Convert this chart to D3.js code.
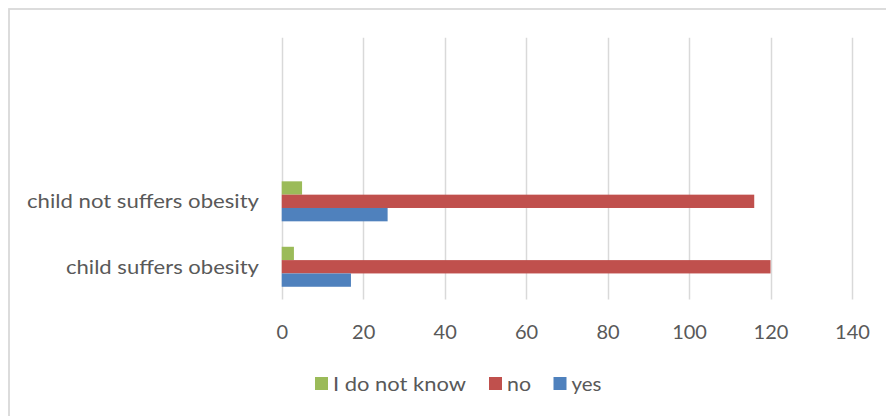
<!DOCTYPE html>
<html><head><meta charset="utf-8">
<script src="https://cdn.jsdelivr.net/npm/d3@7"></script>
<style>body{margin:0;background:#fff}svg{display:block}text{font-family:Lato,"Open Sans",sans-serif;fill:#595959}</style>
</head><body><svg id="c" width="886" height="416"></svg>
<script>
const categories = ["child suffers obesity", "child not suffers obesity", "", " "];
const seriesNames = ["I do not know", "no", "yes"];
const dontKnow = [3, 5];
const noVals = [120, 116];
const yesVals = [17, 26];
const xTicks = [0, 20, 40, 60, 80, 100, 120, 140];
const colors = ["#9BBB59", "#C0504D", "#4F81BD"];

const svg = d3.select("#c");
svg.append("rect").attr("x", 9).attr("y", 9).attr("width", 900).attr("height", 430)
  .attr("fill", "#fff").attr("stroke", "#D9D9D9").attr("stroke-width", 1.8);

const x = d3.scaleLinear().domain([0, 140]).range([281.7, 852]);
const y = d3.scaleBand().domain(categories).range([299.5, 37.7]).paddingInner(0.389).paddingOuter(0.1945);
const ys = d3.scaleBand().domain(seriesNames).range([0, y.bandwidth()]);

svg.append("g").selectAll("line").data(xTicks).join("line")
  .attr("x1", d => Math.round(x(d)) + 0.5).attr("x2", d => Math.round(x(d)) + 0.5)
  .attr("y1", 37.7).attr("y2", 299.5).attr("stroke", "#D9D9D9").attr("stroke-width", 1.5);

const xAxis = d3.axisBottom(x).tickValues(xTicks).tickSize(0).tickPadding(0);
const gx = svg.append("g").attr("transform", "translate(0,332)").call(xAxis);
gx.select(".domain").remove();
gx.selectAll("text").attr("font-size", 20).attr("dy", "0.35em").attr("y", 0)
  .style("fill", "#595959").style("font-family", "Lato");

const labelled = categories.slice(0, 2);
const labelWidths = [193, 232];
svg.append("g").selectAll("text").data(labelled).join("text")
  .attr("x", 259).attr("y", d => y(d) + y.bandwidth() / 2).attr("dy", "0.35em")
  .attr("text-anchor", "end").attr("font-size", 20)
  .attr("textLength", (d, i) => labelWidths[i]).attr("lengthAdjust", "spacingAndGlyphs").text(d => d);

const seriesData = [dontKnow, noVals, yesVals];
seriesNames.forEach((s, i) => {
  svg.append("g").selectAll("rect").data(seriesData[i]).join("rect")
    .attr("x", x(0)).attr("y", (d, j) => y(categories[j]) + ys(s))
    .attr("width", d => x(d) - x(0)).attr("height", ys.bandwidth())
    .attr("fill", colors[i]);
});

const legendX = [315, 489, 553.5];
const legendW = [133, 24, 30];
const lg = svg.append("g");
seriesNames.forEach((s, i) => {
  lg.append("rect").attr("x", legendX[i]).attr("y", 377).attr("width", 13).attr("height", 13).attr("fill", colors[i]);
  lg.append("text").attr("x", legendX[i] + 18).attr("y", 383.5).attr("dy", "0.35em").attr("font-size", 20)
    .attr("textLength", legendW[i]).attr("lengthAdjust", "spacingAndGlyphs").text(s);
});
</script></body></html>
